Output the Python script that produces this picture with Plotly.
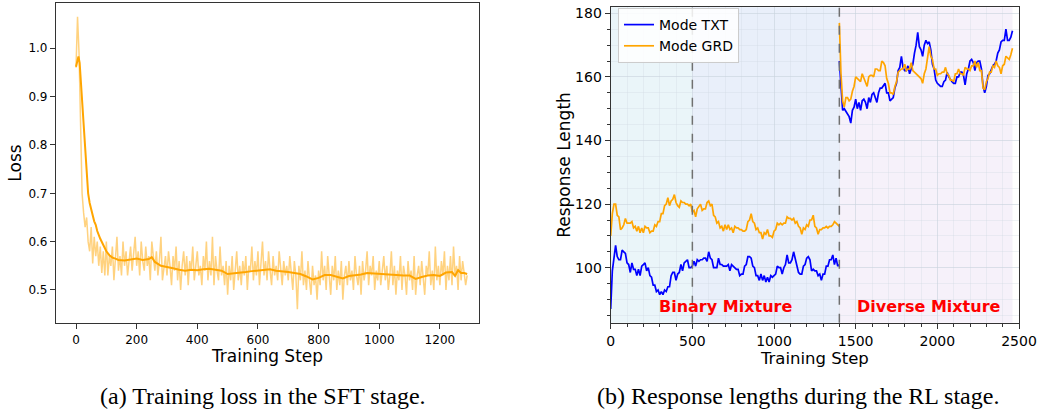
import plotly.graph_objects as go

# ---------------- data: (a) SFT training loss ----------------
LOSS_STEP_START, LOSS_STEP_END, LOSS_STEP_EVERY = 0, 1290, 5
RAW_LOSS = [
    0.96, 1.065, 0.99, 0.80, 0.70, 0.66, 0.63, 0.65, 0.60, 0.58, 0.63, 0.555, 0.61, 0.57, 0.60, 0.55, 0.59, 0.535, 0.58, 0.53,
    0.60, 0.53, 0.57, 0.55, 0.59, 0.52, 0.56, 0.61, 0.54, 0.57, 0.53, 0.60, 0.55, 0.58, 0.53, 0.56, 0.59, 0.54, 0.57, 0.61,
    0.55, 0.58, 0.53, 0.60, 0.56, 0.54, 0.59, 0.55, 0.57, 0.52, 0.60, 0.56, 0.54, 0.58, 0.53, 0.56, 0.61, 0.52, 0.55, 0.57,
    0.53, 0.58, 0.55, 0.51, 0.57, 0.54, 0.59, 0.52, 0.56, 0.50, 0.55, 0.58, 0.53, 0.57, 0.51, 0.56, 0.54, 0.59, 0.52, 0.55,
    0.58, 0.53, 0.55, 0.51, 0.57, 0.54, 0.60, 0.52, 0.56, 0.53, 0.61, 0.51, 0.57, 0.54, 0.52, 0.59, 0.53, 0.55, 0.51, 0.56,
    0.49, 0.55, 0.52, 0.57, 0.50, 0.54, 0.58, 0.52, 0.55, 0.51, 0.56, 0.53, 0.57, 0.50, 0.55, 0.54, 0.59, 0.52, 0.56, 0.53,
    0.58, 0.51, 0.55, 0.60, 0.53, 0.56, 0.52, 0.58, 0.54, 0.51, 0.57, 0.53, 0.55, 0.52, 0.58, 0.54, 0.51, 0.56, 0.53, 0.55,
    0.52, 0.57, 0.54, 0.50, 0.56, 0.53, 0.46, 0.55, 0.52, 0.58, 0.51, 0.54, 0.50, 0.56, 0.52, 0.49, 0.55, 0.51, 0.53, 0.48,
    0.54, 0.51, 0.58, 0.52, 0.55, 0.50, 0.57, 0.53, 0.49, 0.55, 0.52, 0.57, 0.50, 0.54, 0.51, 0.56, 0.48, 0.53, 0.55, 0.51,
    0.56, 0.52, 0.54, 0.50, 0.57, 0.53, 0.51, 0.55, 0.49, 0.56, 0.52, 0.54, 0.58, 0.51, 0.55, 0.53, 0.57, 0.50, 0.54, 0.52,
    0.56, 0.51, 0.54, 0.57, 0.52, 0.55, 0.50, 0.53, 0.58, 0.51, 0.55, 0.49, 0.54, 0.52, 0.57, 0.50, 0.55, 0.53, 0.49, 0.56,
    0.52, 0.54, 0.50, 0.57, 0.49, 0.53, 0.55, 0.51, 0.56, 0.52, 0.49, 0.55, 0.53, 0.58, 0.51, 0.54, 0.50, 0.59, 0.52, 0.55,
    0.51, 0.56, 0.53, 0.58, 0.50, 0.55, 0.52, 0.57, 0.51, 0.59, 0.53, 0.55, 0.50, 0.57, 0.52, 0.56, 0.54, 0.51, 0.53,
]
SMOOTH_STEPS = [0, 4, 8, 12, 16, 20, 25, 30, 35, 40, 45, 50, 55, 60, 65, 70, 80, 90, 100, 110, 120, 130, 140, 160, 180,
                200, 220, 240, 250, 260, 280, 300, 320, 340, 360, 380, 400, 420, 440, 460, 480, 500, 520, 540, 560,
                580, 600, 620, 640, 660, 680, 700, 720, 740, 760, 780, 800, 820, 840, 860, 880, 900, 920, 940, 960,
                980, 1000, 1020, 1040, 1060, 1080, 1100, 1120, 1140, 1160, 1180, 1200, 1220, 1240, 1250, 1260, 1270,
                1280, 1290]
SMOOTH_LOSS = [0.962, 0.975, 0.983, 0.97, 0.93, 0.885, 0.83, 0.78, 0.735, 0.70, 0.68, 0.665, 0.652, 0.642, 0.635, 0.622,
               0.606, 0.592, 0.58, 0.572, 0.567, 0.565, 0.562, 0.561, 0.563, 0.565, 0.562, 0.564, 0.568, 0.558, 0.550,
               0.548, 0.545, 0.542, 0.540, 0.542, 0.541, 0.543, 0.544, 0.542, 0.540, 0.533, 0.534, 0.536, 0.537,
               0.539, 0.540, 0.542, 0.543, 0.540, 0.539, 0.537, 0.535, 0.533, 0.528, 0.522, 0.525, 0.531, 0.531,
               0.528, 0.524, 0.529, 0.530, 0.532, 0.535, 0.534, 0.533, 0.532, 0.532, 0.531, 0.530, 0.530, 0.523,
               0.527, 0.530, 0.531, 0.529, 0.536, 0.537, 0.529, 0.541, 0.535, 0.535, 0.533]

# ---------------- data: (b) RL response lengths ----------------
PHASE1_START, PHASE1_END = 0, 1400
PHASE2_START, PHASE2_END = 1400, 2460
STEP_EVERY = 10
TXT_PHASE1 = [
    87, 99, 103, 107, 103.5, 102.5, 102.5, 105.5, 105, 104.5, 101.5, 101, 98.5, 101.5, 99.5, 99.5, 97.5, 99.5, 97.5, 100.5,
    101, 101.5, 99, 100, 97.5, 97, 94.5, 94.5, 92.5, 93, 91.5, 92.5, 91.5, 93, 92.5, 94, 94, 97.5, 98.5, 98.5,
    96, 98, 98.5, 101, 99, 101.5, 102, 102.5, 100, 100, 100.5, 102, 100.5, 102.5, 102, 102.5, 102.5, 103, 103, 102,
    105, 103, 102.5, 100, 100, 100, 103, 101, 101, 100.5, 100.5, 100.5, 101, 99, 101, 100.5, 100, 99.5, 99.5, 97.5,
    98, 98, 100.5, 101, 103.5, 103.5, 103, 100.5, 100, 97.5, 97.5, 96, 98, 96, 97.5, 95.5, 97, 95.5, 97.5, 97,
    97.5, 98, 100.5, 100, 100, 98, 100, 101, 104, 101.5, 101.5, 102.5, 105, 102.5, 101, 98.5, 98, 98, 100.5, 101,
    103, 103.5, 102.5, 99, 99.5, 99, 99, 97.5, 98, 96, 98, 98, 100.5, 100.5, 102.5, 102.5, 104, 101, 103, 100.5,
    101,
]
GRD_PHASE1 = [
    110, 117, 120, 120, 116.5, 116, 112, 112.5, 113.5, 115.5, 114, 114, 114, 114.5, 112.5, 113, 111.5, 113, 111, 112.5,
    111, 113, 112.5, 112.5, 111, 111.5, 111.5, 113.5, 113, 114.5, 114.5, 117, 117, 119.5, 120, 122, 119.5, 121, 121.5, 123,
    120.5, 119.5, 119, 121, 120.5, 120.5, 120, 120, 119.5, 120, 117.5, 118, 116, 118.5, 119.5, 120, 118, 118.5, 118.5, 120.5,
    121, 119.5, 120, 116.5, 116, 114, 114.5, 112.5, 113, 111.5, 113.5, 112, 113.5, 112, 112.5, 111, 113, 112.5, 112.5, 112,
    112, 111.5, 111.5, 112, 114.5, 115, 117, 114.5, 114, 112, 112.5, 111, 111, 109, 111, 110.5, 112, 110, 110, 109.5,
    111.5, 112, 114, 113.5, 114, 113.5, 114, 114, 116, 115.5, 115.5, 115, 115.5, 114, 114.5, 113, 112.5, 110.5, 112.5, 112,
    113.5, 113, 115, 115, 116.5, 113, 112.5, 110.5, 112, 112, 112.5, 112.5, 113, 112.5, 113, 113, 113.5, 114.5, 114, 113.5,
    113,
]
TXT_PHASE2 = [
    165, 156, 149.5, 150, 149, 148.5, 147.5, 145.5, 149.5, 150.5, 153, 150, 152, 149.5, 152.5, 153, 152, 150, 153.5, 152,
    154.5, 155, 153.5, 152, 155, 156.5, 156.5, 157.5, 158, 155, 155, 152.5, 153, 153.5, 156.5, 158, 162, 163, 166.5, 163,
    162, 162, 163.5, 161, 162.5, 164, 167.5, 170, 174, 169.5, 168.5, 166.5, 170, 171.5, 170.5, 171, 168.5, 164, 162.5, 159,
    158, 157.5, 157, 157, 158.5, 159, 161.5, 160, 159, 158.5, 158, 158, 160, 160, 161.5, 161.5, 160.5, 157.5, 161, 162.5,
    165, 165.5, 164.5, 162, 164.5, 165, 165, 162.5, 157, 155, 157, 160.5, 161, 162.5, 163.5, 164, 165, 167.5, 168.5, 171,
    171.5, 171.5, 175, 171.5, 171.5, 172.5, 174.5,
]
GRD_PHASE2 = [
    177, 161, 152.5, 150.5, 153.5, 153.5, 152.5, 153, 155.5, 157, 160, 159.5, 159, 158.5, 161, 159.5, 158.5, 157, 160, 160.5,
    160.5, 160, 162.5, 162.5, 162, 162, 165, 164.5, 163.5, 159.5, 158, 155, 155, 154.5, 157, 158.5, 161.5, 162, 162.5, 162.5,
    164, 162, 162.5, 162.5, 164.5, 162, 161.5, 161, 160.5, 160, 159.5, 158, 161, 162.5, 165.5, 169.5, 166.5, 165.5, 162.5, 162.5,
    160.5, 161, 161, 161.5, 161.5, 163, 161, 160.5, 159, 159, 158.5, 161, 161, 162.5, 161, 161, 160.5, 163, 162.5, 162.5,
    162, 163.5, 163.5, 165, 163, 164.5, 162, 162, 156.5, 156, 158.5, 159.5, 161.5, 161.5, 163.5, 163, 165, 163.5, 163, 161,
    163.5, 164, 166.5, 166, 165.5, 167, 169,
]
PHASE_BOUNDS = [0, 500, 1400, 2460]
PHASE_LABELS = ["Binary Mixture", "Diverse Mixture"]
SERIES_NAMES = ["Mode TXT", "Mode GRD"]
CAPTIONS = ["(a) Training loss in the SFT stage.", "(b) Response lengths during the RL stage."]

# ---------------- derived step arrays ----------------
loss_steps = list(range(LOSS_STEP_START, LOSS_STEP_END + 1, LOSS_STEP_EVERY))
steps1 = list(range(PHASE1_START, PHASE1_END + 1, STEP_EVERY))
steps2 = list(range(PHASE2_START, PHASE2_END + 1, STEP_EVERY))
assert len(loss_steps) == len(RAW_LOSS), (len(loss_steps), len(RAW_LOSS))
assert len(SMOOTH_STEPS) == len(SMOOTH_LOSS), (len(SMOOTH_STEPS), len(SMOOTH_LOSS))
assert len(steps1) == len(TXT_PHASE1) == len(GRD_PHASE1), (len(steps1), len(TXT_PHASE1), len(GRD_PHASE1))
assert len(steps2) == len(TXT_PHASE2) == len(GRD_PHASE2), (len(steps2), len(TXT_PHASE2), len(GRD_PHASE2))

FONT = "DejaVu Sans"
ORANGE = "#FFA500"
BLUE = "#0000FF"
W, H = 1039, 411


def fx(px):
    return px / W


def fy(px):
    return 1 - px / H


fig = go.Figure()

# (a)
fig.add_trace(go.Scatter(x=loss_steps, y=RAW_LOSS, mode="lines", xaxis="x", yaxis="y",
                         line=dict(color="rgba(255,165,0,0.5)", width=1.5), showlegend=False))
fig.add_trace(go.Scatter(x=SMOOTH_STEPS, y=SMOOTH_LOSS, mode="lines", xaxis="x", yaxis="y",
                         line=dict(color=ORANGE, width=2), showlegend=False))

# (b)
fig.add_trace(go.Scatter(x=steps1 + [None] + steps2, y=TXT_PHASE1 + [None] + TXT_PHASE2,
                         mode="lines", xaxis="x2", yaxis="y2", name=SERIES_NAMES[0],
                         line=dict(color=BLUE, width=1.7)))
fig.add_trace(go.Scatter(x=steps1 + [None] + steps2, y=GRD_PHASE1 + [None] + GRD_PHASE2,
                         mode="lines", xaxis="x2", yaxis="y2", name=SERIES_NAMES[1],
                         line=dict(color=ORANGE, width=1.7)))

shade_colors = ["rgba(173,216,230,0.25)", "rgba(176,196,236,0.28)", "rgba(230,215,240,0.35)"]
shapes = []
for i in range(3):
    shapes.append(dict(type="rect", xref="x2", yref="y2 domain", x0=PHASE_BOUNDS[i], x1=PHASE_BOUNDS[i + 1],
                       y0=0, y1=1, fillcolor=shade_colors[i], line=dict(width=0), layer="below"))
for b in PHASE_BOUNDS[1:3]:
    shapes.append(dict(type="line", xref="x2", yref="y2 domain", x0=b, x1=b, y0=0, y1=1,
                       line=dict(color="#707070", width=1.5, dash="dash"), layer="above"))

annotations = [
    dict(text=PHASE_LABELS[0], x=700, y=87.7, xref="x2", yref="y2", showarrow=False,
         font=dict(family=FONT, size=16, color="#FF0000", weight="bold")),
    dict(text=PHASE_LABELS[1], x=1950, y=87.7, xref="x2", yref="y2", showarrow=False,
         font=dict(family=FONT, size=16, color="#FF0000", weight="bold")),
    dict(text=CAPTIONS[0], x=fx(263), y=fy(396), xref="paper", yref="paper", showarrow=False,
         xanchor="center", yanchor="middle",
         font=dict(family="Liberation Serif", size=24, color="black")),
    dict(text=CAPTIONS[1], x=fx(798), y=fy(396), xref="paper", yref="paper", showarrow=False,
         xanchor="center", yanchor="middle",
         font=dict(family="Liberation Serif", size=24, color="black")),
]

axis_common = dict(showline=True, linecolor="#333333", linewidth=1.2, mirror=True, ticks="outside",
                   ticklen=5, tickwidth=1, tickcolor="#333333", zeroline=False, color="black",
                   automargin=False)

fig.update_layout(
    width=W, height=H,
    margin=dict(l=0, r=0, t=0, b=0, pad=0, autoexpand=False),
    paper_bgcolor="white", plot_bgcolor="white",
    font=dict(family=FONT, color="black"),
    showlegend=True,
    legend=dict(x=fx(618), y=fy(8), xanchor="left", yanchor="top",
                bgcolor="rgba(255,255,255,0.85)", bordercolor="#cccccc", borderwidth=1,
                font=dict(family=FONT, size=14), tracegroupgap=0),
    xaxis=dict(domain=[fx(56), fx(479)], anchor="y", range=[-66, 1329], dtick=200, tick0=0,
               showgrid=False, tickfont=dict(size=12),
               title=dict(text="Training Step", font=dict(size=17), standoff=4), **axis_common),
    yaxis=dict(domain=[fy(323), fy(3)], anchor="x", range=[0.4317, 1.0937], dtick=0.1, tick0=0.5,
               tickformat=".1f", showgrid=False, tickfont=dict(size=12),
               title=dict(text="Loss", font=dict(size=17), standoff=2), **axis_common),
    xaxis2=dict(domain=[fx(610.7), fx(1019)], anchor="y2", range=[0, 2500], dtick=500, tick0=0,
                showgrid=True, gridcolor="rgba(200,210,220,0.6)", gridwidth=1, tickfont=dict(size=14),
                minor=dict(dtick=100, tick0=0, ticklen=3, ticks="outside", tickcolor="#333333", showgrid=True,
                           gridcolor="rgba(210,218,226,0.35)"),
                title=dict(text="Training Step", font=dict(size=16.5), standoff=0), **axis_common),
    yaxis2=dict(domain=[fy(322.7), fy(7.3)], anchor="x2", range=[82.7, 181.9], dtick=20, tick0=0,
                showgrid=True, gridcolor="rgba(200,210,220,0.6)", gridwidth=1, tickfont=dict(size=14),
                minor=dict(dtick=5, tick0=0, ticklen=3, ticks="outside", tickcolor="#333333", showgrid=True,
                           gridcolor="rgba(210,218,226,0.35)"),
                title=dict(text="Response Length", font=dict(size=17), standoff=0), **axis_common),
    shapes=shapes,
    annotations=annotations,
)

# the page's default 8px body margin would push the figure off the 1039x411 window
fig.write_html("out.html", config={"displayModeBar": False},
               post_script="document.body.style.margin='0';")
